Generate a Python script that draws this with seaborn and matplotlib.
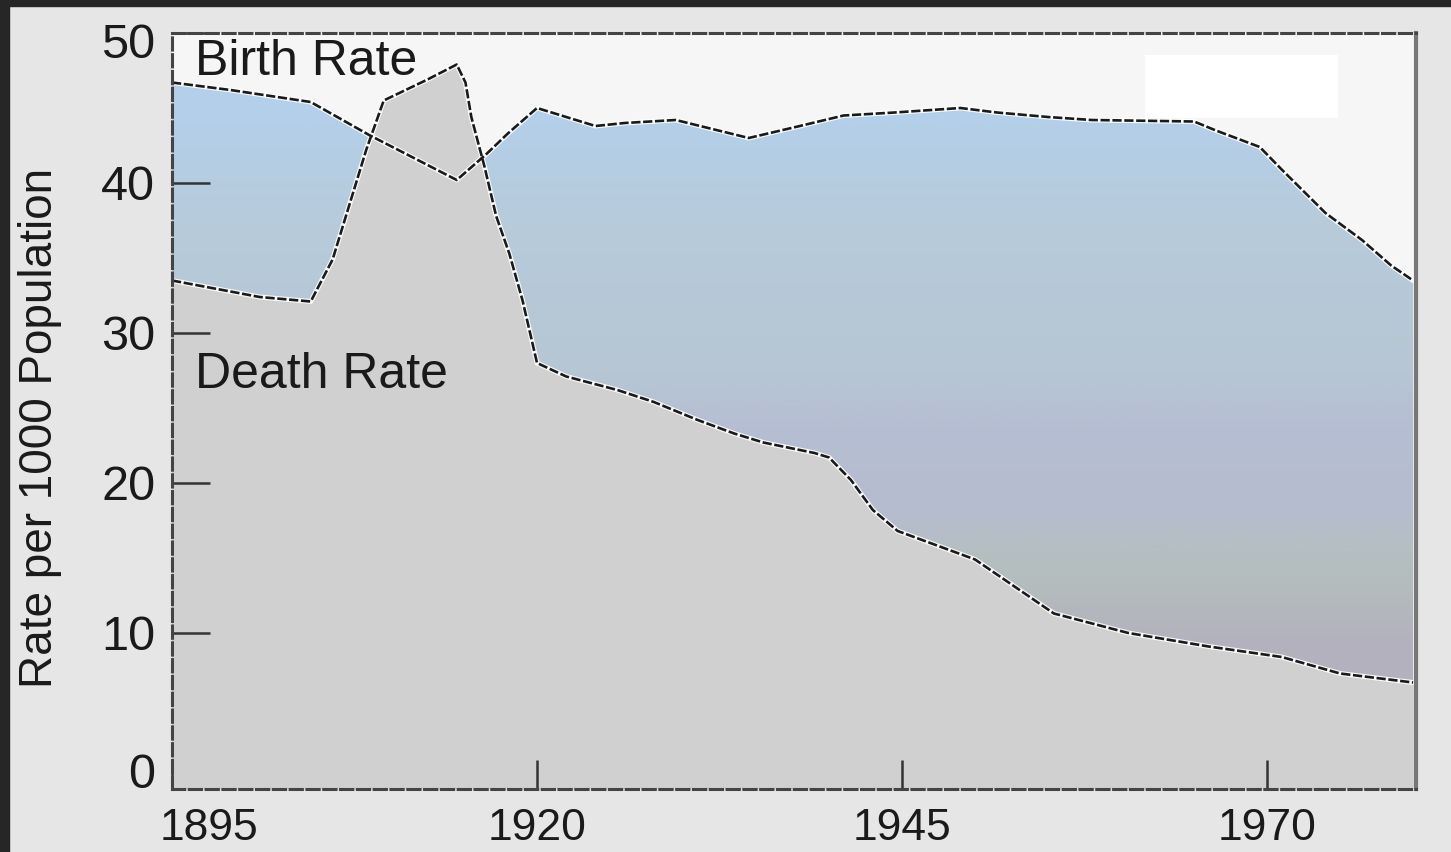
import matplotlib
matplotlib.use("Agg")
import matplotlib.pyplot as plt
import matplotlib.transforms as mtransforms
from matplotlib.colors import LinearSegmentedColormap
from matplotlib.patches import Rectangle
import numpy as np
import seaborn as sns

# values
birth_years = [1895, 1899, 1904.5, 1908.5, 1914.5, 1916.5, 1918, 1920, 1924, 1926,
               1929.5, 1934.5, 1938, 1941, 1944.5, 1949, 1951.5, 1955, 1958, 1965,
               1966.5, 1969.5, 1971, 1974, 1976.5, 1978.5, 1980]
birth_rate = [46.7, 46.2, 45.4, 43.2, 40.2, 41.9, 43.3, 45.0, 43.8, 44.0,
              44.2, 43.0, 43.8, 44.5, 44.7, 45.0, 44.7, 44.4, 44.2, 44.1,
              43.5, 42.4, 40.9, 38.0, 36.2, 34.5, 33.5]

death_years = [1895, 1901, 1904.5, 1906, 1908.3, 1909.5, 1912.5, 1914.5, 1915.1, 1915.5,
               1916.4, 1917.2, 1918.1, 1919, 1920, 1922, 1925.5, 1928, 1931, 1933.5,
               1935.5, 1939, 1940, 1941.5, 1943, 1944.7, 1950, 1955.4, 1960.5, 1966,
               1971, 1975, 1980]
death_rate = [33.5, 32.4, 32.1, 34.9, 42.2, 45.5, 46.9, 47.9, 46.7, 44.4,
              41.1, 37.8, 35.3, 32.2, 28.0, 27.1, 26.2, 25.4, 24.2, 23.3,
              22.7, 22.0, 21.7, 20.2, 18.2, 16.8, 14.9, 11.3, 10.0, 9.1,
              8.4, 7.3, 6.7]

x_ticks = [1895, 1920, 1945, 1970]
y_ticks = [0, 10, 20, 30, 40, 50]

sns.set_style("white")
plt.rcParams["font.family"] = ["Liberation Sans", "DejaVu Sans"]

W, H = 1451, 852
fig = plt.figure(figsize=(W / 100, H / 100), dpi=100, facecolor="#e6e6e6")
ax = fig.add_axes([172 / W, 1 - 789 / H, (1416 - 172) / W, (789 - 33) / H])
ax.set_facecolor("#f6f6f6")
ax.set_axisbelow(False)

# dark frame strips on the top and left
fig.patches.append(Rectangle((0, 1 - 6 / H), 1, 6 / H, transform=fig.transFigure,
                             color="#262626", zorder=0))
fig.patches.append(Rectangle((0, 0), 9 / W, 1, transform=fig.transFigure,
                             color="#262626", zorder=0))

ymin, ymax = -0.4, 50
xmin, xmax = 1895, 1980.2

# blue gradient under the birth rate curve
birth_poly = ax.fill_between(birth_years, birth_rate, ymin, color="none", lw=0)
grad_cmap = LinearSegmentedColormap.from_list(
    "grad",
    [(0.0, "#b3b0bb"), (0.2, "#b3b2be"), (0.27, "#b4bdbd"), (0.31, "#b5bfc0"),
     (0.37, "#b5bcd0"), (0.48, "#b6bed3"), (0.55, "#b6c6d3"), (0.75, "#b7cbdb"),
     (0.88, "#b4cfe9"), (1.0, "#b4cfea")])
grad = np.linspace(0, 1, 256).reshape(-1, 1)
im = ax.imshow(grad, extent=[xmin, xmax, ymin, ymax], origin="lower",
               aspect="auto", cmap=grad_cmap, zorder=1)
im.set_clip_path(birth_poly.get_paths()[0], ax.transData)

# grey area under the death rate curve
ax.fill_between(death_years, death_rate, ymin, color="#d0d0d0", lw=0, zorder=2)

# curves: white halo plus dark dashed line
for yrs, vals in [(birth_years, birth_rate), (death_years, death_rate)]:
    ax.plot(yrs, vals, color="white", lw=3.6, alpha=0.9, zorder=3,
            solid_capstyle="round")
    sns.lineplot(x=yrs, y=vals, ax=ax, color="#1a1a1a", lw=1.9,
                 linestyle=(0, (3.5, 1.0)), zorder=4)

# blank box in the top right corner
ax.add_patch(Rectangle((0.782, 0.8876), 0.155, 0.0833, transform=ax.transAxes,
                       color="white", lw=0, zorder=2))

ax.text(1896.6, 47.2, "Birth Rate", fontsize=36, color="#1a1a1a",
        va="baseline", ha="left", zorder=5)
ax.text(1896.6, 26.3, "Death Rate", fontsize=36, color="#1a1a1a",
        va="baseline", ha="left", zorder=5)

ax.set_xlim(xmin, xmax)
ax.set_ylim(ymin, ymax)
ax.set_xticks(x_ticks)
ax.set_yticks(y_ticks)
ax.set_xticklabels([str(t) for t in x_ticks])
ax.set_yticklabels([str(t) for t in y_ticks])
ax.tick_params(axis="y", left=True, direction="in", length=27, width=1.8,
               color="#333333", labelsize=35, pad=12, labelcolor="#1a1a1a")
ax.tick_params(axis="x", bottom=True, direction="in", length=21, width=1.8,
               color="#333333", labelsize=32, pad=14, labelcolor="#1a1a1a")
ax.yaxis.get_major_ticks()[0].tick1line.set_visible(False)
ax.set_xlabel("")
ax.set_ylabel("")

# nudge some labels to where the reference has them
def nudge(label, dx_px, dy_px):
    label.set_transform(label.get_transform() +
                        mtransforms.ScaledTranslation(dx_px / 100, dy_px / 100,
                                                      fig.dpi_scale_trans))

nudge(ax.get_xticklabels()[0], 37, 0)
nudge(ax.get_yticklabels()[0], 0, 12)
nudge(ax.get_yticklabels()[-1], 0, -8)

for side in ["left", "top", "bottom"]:
    ax.spines[side].set_linestyle((0, (4, 1.5)))
    ax.spines[side].set_color("#444444")
    ax.spines[side].set_linewidth(2.2)
ax.spines["right"].set_color("#777777")
ax.spines["right"].set_linewidth(3)
for sp in ax.spines.values():
    sp.set_zorder(6)

fig.text(40 / W, 1 - 428 / H, "Rate per 1000 Population", rotation=90,
         ha="center", va="center", fontsize=33, color="#1a1a1a")

fig.savefig("out.png", dpi=100, facecolor=fig.get_facecolor())
